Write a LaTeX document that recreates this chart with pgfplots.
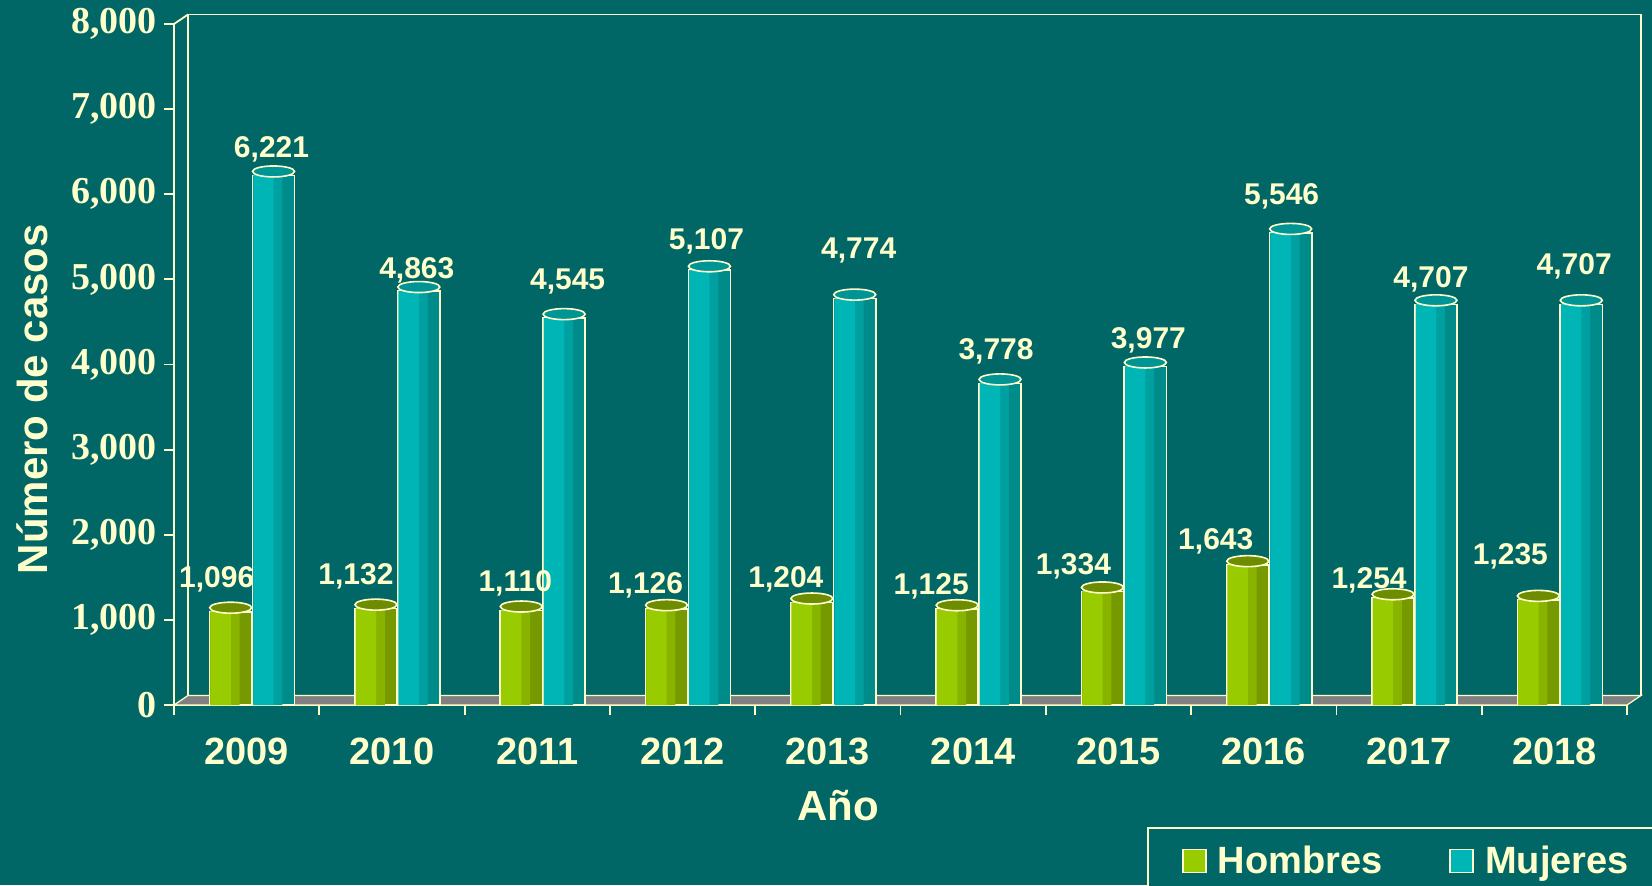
\documentclass[border=0pt]{standalone}
\usepackage{fontspec}
\setmainfont{Liberation Sans}
\newfontfamily\tnr{Liberation Serif}
\usepackage{pgfplots}
\pgfplotsset{compat=1.18}
\usepackage{pgfplotstable}
\definecolor{bg}{HTML}{006666}
\definecolor{cream}{HTML}{FFFFCC}
\definecolor{gA}{HTML}{99CC00}
\definecolor{gM}{HTML}{88B400}
\definecolor{gB}{HTML}{779900}
\definecolor{gT}{HTML}{6E8C00}
\definecolor{tA}{HTML}{00B5B5}
\definecolor{tM}{HTML}{00A0A0}
\definecolor{tB}{HTML}{008B8B}
\definecolor{tT}{HTML}{009494}
\definecolor{floorc}{HTML}{808080}

\pgfdeclareplotmark{topell}{%
  \pgfpathellipse{\pgfqpoint{0pt}{2pt}}{\pgfqpoint{\pgfplotmarksize}{0pt}}{\pgfqpoint{0pt}{2.75pt}}%
  \pgfusepathqfillstroke}

\pgfplotstableread{
x h dx dy
0 1096 -7 12
1 1132 -10 12
2 1110 -3 9.5
3 1126 -10.5 8
4 1204 -13 7.75
5 1125 -13 7.5
6 1334 -14.5 8.5
7 1643 -16 8
8 1254 -12 5
9 1235 -14 17.5
}\hom

\pgfplotstableread{
x h dx dy
0 6221 -1 8.75
1 4863 -1 6.5
2 4545 1.75 14.5
3 5107 -1.5 10.5
4 4774 2 20.3
5 3778 -2 12.2
6 3977 1.5 8.75
7 5546 -4.5 14
8 4707 -2.5 8.5
9 4707 -3.5 15
}\muj

\pgfplotsset{
  lbl/.style={draw=none, mark=none, nodes near coords,
    visualization depends on={\thisrow{dx}\as\ldx},
    visualization depends on={\thisrow{dy}\as\ldy},
    every node near coord/.append style={anchor=base, xshift=\ldx pt, yshift=\ldy pt, text=cream, font=\bfseries\fontsize{15}{15}\selectfont, inner sep=0pt}},
}

\begin{document}
\begin{tikzpicture}
\fill[bg] (-87pt,-90pt) rectangle (739pt,352.5pt);
\begin{axis}[
  scale only axis, width=726.5pt, height=340.5pt,
  xmin=-0.5, xmax=9.5, ymin=0, ymax=8000,
  axis x line*=bottom, axis y line*=left,
  axis line style={cream, line width=0.9pt, -},
  xtick={-0.5,0.5,1.5,2.5,3.5,4.5,5.5,6.5,7.5,8.5,9.5},
  x tick label as interval,
  xticklabels={2009,2010,2011,2012,2013,2014,2015,2016,2017,2018},
  ytick={0,1000,2000,3000,4000,5000,6000,7000,8000},
  tick align=outside, major tick length=5pt,
  tick style={cream, line width=0.9pt},
  xticklabel style={font=\bfseries\fontsize{19}{19}\selectfont, text=cream, yshift=-8pt},
  yticklabel style={font=\tnr\bfseries\fontsize{19}{19}\selectfont, text=cream},
  /pgf/number format/.cd, 1000 sep={,}, assume math mode=true, /pgfplots/.cd,
  xlabel={Año}, ylabel={Número de casos},
  every axis x label/.style={at={(axis description cs:0.457,-0.170)}, anchor=base, font=\bfseries\fontsize{21}{21}\selectfont, text=cream},
  every axis y label/.style={at={(axis description cs:-0.0874,0.449)}, rotate=90, anchor=base, font=\bfseries\fontsize{21}{21}\selectfont, text=cream},
  clip=false,
  legend style={at={(axis description cs:0.6696,-0.179)}, anchor=north west, draw=cream, line width=0.9pt, fill=bg, text=cream,
    font=\bfseries\fontsize{19}{19}\selectfont, inner xsep=12pt, inner ysep=7pt,
    /tikz/every even column/.append style={column sep=26.5pt}},
  legend columns=2,
]
% floor and back wall
\fill[floorc, draw=cream, line width=0.6pt] (axis cs:-0.5,0) -- (axis cs:9.5,0) -- ([shift={(7pt,4.75pt)}]axis cs:9.5,0) -- ([shift={(7pt,4.75pt)}]axis cs:-0.5,0) -- cycle;
\draw[cream, line width=0.9pt] ([shift={(7pt,4.75pt)}]axis cs:-0.5,0) -- ([shift={(7pt,4.75pt)}]axis cs:-0.5,8000) -- ([shift={(7pt,4.75pt)}]axis cs:9.5,8000) -- ([shift={(7pt,4.75pt)}]axis cs:9.5,0);
\draw[cream, line width=0.9pt] (axis cs:-0.5,8000) -- ([shift={(7pt,4.75pt)}]axis cs:-0.5,8000);

% Hombres bars (striped to suggest a cylinder)
\addplot[ybar, bar width=0.29, bar shift=-0.11, fill=gB, draw=cream, line width=0.8pt, forget plot] table[x=x, y=h] {\hom};
\addplot[ybar, bar width=0.20, bar shift=-0.149, fill=gM, draw=none, forget plot] table[x=x, y=h] {\hom};
\addplot[ybar, bar width=0.14, bar shift=-0.179, fill=gA, draw=none, forget plot] table[x=x, y=h] {\hom};
\addplot[only marks, mark=topell, mark size=10.5pt, mark options={fill=gT, draw=cream, line width=0.8pt}, forget plot]
  table[x expr=\thisrow{x}-0.11, y=h] {\hom};

% Mujeres bars
\addplot[ybar, bar width=0.29, bar shift=0.185, fill=tB, draw=cream, line width=0.8pt, forget plot] table[x=x, y=h] {\muj};
\addplot[ybar, bar width=0.20, bar shift=0.146, fill=tM, draw=none, forget plot] table[x=x, y=h] {\muj};
\addplot[ybar, bar width=0.14, bar shift=0.116, fill=tA, draw=none, forget plot] table[x=x, y=h] {\muj};
\addplot[only marks, mark=topell, mark size=10.5pt, mark options={fill=tT, draw=cream, line width=0.8pt}, forget plot]
  table[x expr=\thisrow{x}+0.185, y=h] {\muj};

% value labels
\addplot[lbl, forget plot] table[x expr=\thisrow{x}-0.11, y=h] {\hom};
\addplot[lbl, forget plot] table[x expr=\thisrow{x}+0.185, y=h] {\muj};

\addlegendimage{legend image code/.code={\draw[fill=gA, draw=cream, line width=0.8pt] (5pt,-5.75pt) rectangle (16.5pt,5.75pt); \path (0pt,0pt) (20pt,0pt);}}
\addlegendentry{Hombres}
\addlegendimage{legend image code/.code={\draw[fill=tA, draw=cream, line width=0.8pt] (5pt,-5.75pt) rectangle (16.5pt,5.75pt); \path (0pt,0pt) (20pt,0pt);}}
\addlegendentry{Mujeres}
\end{axis}
\pgfresetboundingbox
\path (-87pt,-90pt) rectangle (739pt,352.5pt);
\end{tikzpicture}
\end{document}
